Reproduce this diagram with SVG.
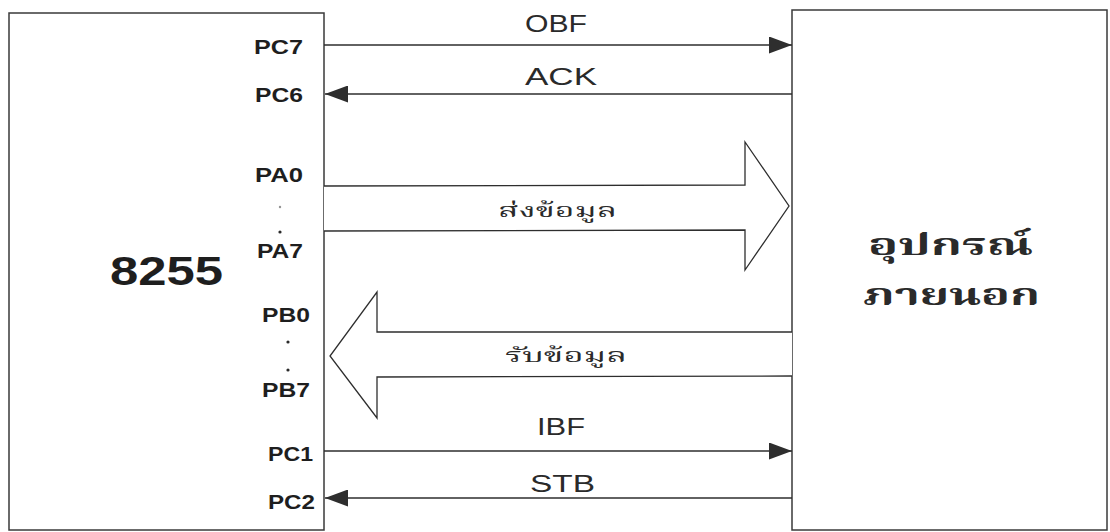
<svg xmlns="http://www.w3.org/2000/svg" width="1110" height="532" viewBox="0 0 1110 532">
  <style>
    .box { fill: #ffffff; stroke: #3a3a3a; stroke-width: 1.5; }
    .wire { stroke: #2e2e2e; stroke-width: 1.5; fill: none; }
    .bus { stroke: #2e2e2e; stroke-width: 1.3; fill: #ffffff; stroke-linejoin: miter; }
    .pin { font-family: "Liberation Sans", Arial, sans-serif; font-weight: bold; font-size: 20px; fill: #1e1e1e; }
    .sig { font-family: "Liberation Sans", Arial, sans-serif; font-size: 23px; fill: #2a2a2a; }
    .chip { font-family: "Liberation Sans", Arial, sans-serif; font-weight: bold; font-size: 41px; fill: #1e1e1e; }
    .thai { font-family: "Noto Serif Thai", "Noto Sans Thai", "Loma", "Garuda", "Norasi", "DejaVu Sans", sans-serif; fill: #2a2a2a; }
    .dot { fill: #2a2a2a; }
  </style>
  <defs>
    <marker id="head" viewBox="0 0 23 17" refX="23" refY="8.5" markerWidth="23" markerHeight="17" markerUnits="userSpaceOnUse" orient="auto">
      <path d="M0,0 L23,8.5 L0,17 Z" fill="#2e2e2e"/>
    </marker>
  </defs>

  <rect width="1110" height="532" fill="#ffffff"/>

  <!-- 8255 chip -->
  <g id="chip8255">
    <rect class="box" x="9" y="13" width="315" height="517"/>
    <text class="chip" x="110" y="285" textLength="113" lengthAdjust="spacingAndGlyphs">8255</text>
    <text class="pin" x="254" y="54" textLength="49" lengthAdjust="spacingAndGlyphs">PC7</text>
    <text class="pin" x="255" y="102" textLength="48" lengthAdjust="spacingAndGlyphs">PC6</text>
    <text class="pin" x="255" y="182" textLength="48" lengthAdjust="spacingAndGlyphs">PA0</text>
    <circle class="dot" cx="280" cy="207" r="1.2" opacity="0.5"/>
    <circle class="dot" cx="280" cy="232" r="1.6"/>
    <text class="pin" x="257" y="258" textLength="46" lengthAdjust="spacingAndGlyphs">PA7</text>
    <text class="pin" x="262" y="322" textLength="48" lengthAdjust="spacingAndGlyphs">PB0</text>
    <circle class="dot" cx="288" cy="342" r="1.6"/>
    <circle class="dot" cx="288" cy="370" r="1.6"/>
    <text class="pin" x="262" y="397" textLength="48" lengthAdjust="spacingAndGlyphs">PB7</text>
    <text class="pin" x="268" y="461" textLength="45" lengthAdjust="spacingAndGlyphs">PC1</text>
    <text class="pin" x="268" y="509" textLength="47" lengthAdjust="spacingAndGlyphs">PC2</text>
  </g>

  <!-- external device -->
  <g id="device">
    <rect class="box" x="792" y="10" width="315" height="520"/>
    <text class="thai" x="868" y="255" font-size="31" font-weight="bold" textLength="165" lengthAdjust="spacingAndGlyphs">อุปกรณ์</text>
    <text class="thai" x="863" y="305" font-size="31" font-weight="bold" textLength="177" lengthAdjust="spacingAndGlyphs">ภายนอก</text>
  </g>

  <!-- connectors -->
  <g id="connectors">
    <line class="wire" x1="324" y1="45" x2="792" y2="45" marker-end="url(#head)"/>
    <line class="wire" x1="792" y1="94" x2="325" y2="94" marker-end="url(#head)"/>
    <polyline class="bus" points="324,186 745,185 745,142 789,206 745,270 745,230 324,231"/>
    <polyline class="bus" points="792,332 377,332 377,292 330,356 377,418 377,377 792,376"/>
    <line class="wire" x1="324" y1="451" x2="792" y2="451" marker-end="url(#head)"/>
    <line class="wire" x1="792" y1="498" x2="325" y2="498" marker-end="url(#head)"/>
  </g>

  <!-- signal labels -->
  <g id="labels">
    <text class="sig" x="525" y="32" textLength="62" lengthAdjust="spacingAndGlyphs">OBF</text>
    <text class="sig" x="525" y="85" textLength="72" lengthAdjust="spacingAndGlyphs">ACK</text>
    <text class="thai" x="498" y="217" font-size="20" textLength="119" lengthAdjust="spacingAndGlyphs">ส่งข้อมูล</text>
    <text class="thai" x="505" y="362" font-size="20" textLength="122" lengthAdjust="spacingAndGlyphs">รับข้อมูล</text>
    <text class="sig" x="537" y="435" textLength="48" lengthAdjust="spacingAndGlyphs">IBF</text>
    <text class="sig" x="530" y="492" textLength="65" lengthAdjust="spacingAndGlyphs">STB</text>
  </g>
</svg>
